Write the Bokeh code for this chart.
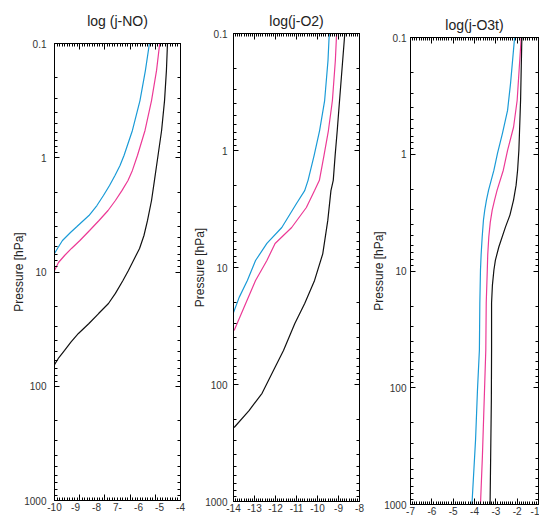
import numpy as np
from bokeh.plotting import figure
from bokeh.models import LinearAxis, LogAxis, FixedTicker, Range1d
from bokeh.layouts import row, column
from bokeh.embed import file_html
from bokeh.resources import INLINE

# ---------------- data ----------------
titles = ["log (j-NO)", "log(j-O2)", "log(j-O3t)"]
y_axis_label = "Pressure [hPa]"
y_ticks = [0.1, 1, 10, 100, 1000]
y_tick_labels = ["0.1", "1", "10", "100", "1000"]

# panel 1: log(j-NO)
no_x_ticks = [-10, -9, -8, -7, -6, -5, -4]
no_x_labels = ["-10", "-9", "-8", "7-", "-6", "-5", "-4"]
no_blue_p = [0.1, 0.172, 0.316, 0.577, 0.956, 1.169, 1.430, 1.749, 2.140, 2.618, 3.203, 3.54, 3.999, 4.51, 5.30, 6.105, 6.89]
no_blue_v = [-5.48, -5.67, -5.93, -6.29, -6.69, -6.88, -7.12, -7.38, -7.67, -7.98, -8.36, -8.62, -8.93, -9.24, -9.62, -9.83, -10.0]
no_pink_p = [0.1, 0.172, 0.316, 0.577, 0.956, 1.29, 1.58, 1.94, 2.367, 2.895, 3.54, 4.334, 5.30, 6.22, 7.17, 8.26, 9.70]
no_pink_v = [-4.99, -5.14, -5.38, -5.69, -6.05, -6.29, -6.50, -6.79, -7.10, -7.45, -7.88, -8.33, -8.79, -9.19, -9.52, -9.81, -10.0]
no_black_p = [0.1, 0.172, 0.316, 0.577, 0.956, 1.58, 2.367, 3.54, 4.792, 6.22, 7.93, 9.70, 11.87, 15.4, 18.87, 23.1, 28.24, 34.5, 40.96, 48.6, 56.03, 64.6]
no_black_v = [-4.62, -4.67, -4.76, -4.90, -5.07, -5.24, -5.38, -5.57, -5.74, -5.95, -6.24, -6.48, -6.74, -7.10, -7.43, -7.90, -8.36, -8.86, -9.21, -9.52, -9.79, -10.0]

# panel 2: log(j-O2)
o2_x_ticks = [-14, -13, -12, -11, -10, -9, -8]
o2_x_labels = ["-14", "-13", "-12", "-11", "-10", "-9", "-8"]
o2_blue_p = [0.1, 0.170, 0.374, 0.675, 1.10, 1.80, 2.20, 2.84, 4.55, 6.23, 8.71, 12.9, 18.0, 24.3]
o2_blue_v = [-9.44, -9.50, -9.66, -9.90, -10.16, -10.45, -10.61, -11.00, -11.70, -12.41, -12.95, -13.34, -13.73, -14.0]
o2_pink_p = [0.1, 0.170, 0.374, 0.675, 1.10, 1.80, 2.20, 3.07, 4.55, 6.23, 8.71, 12.9, 20.3, 34.5]
o2_pink_v = [-9.09, -9.15, -9.29, -9.48, -9.69, -9.91, -10.14, -10.53, -11.23, -12.02, -12.41, -12.95, -13.42, -13.97]
o2_black_p = [0.1, 0.374, 0.675, 1.10, 1.80, 2.20, 3.96, 7.64, 12.9, 20.3, 30.1, 51.2, 80.5, 119, 167, 233]
o2_black_v = [-8.70, -8.95, -9.06, -9.16, -9.25, -9.36, -9.51, -9.75, -10.14, -10.61, -11.08, -11.62, -12.17, -12.64, -13.26, -13.97]

# panel 3: log(j-O3t)
o3_x_ticks = [-7, -6, -5, -4, -3, -2, -1]
o3_x_labels = ["-7", "-6", "-5", "-4", "-3", "-2", "-1"]
o3_blue_p = [0.1, 0.247, 0.421, 0.662, 0.98, 1.37, 2.03, 2.47, 3.01, 3.66, 5.12, 7.3, 9.8, 18.8, 47.3, 104, 278, 1000]
o3_blue_v = [-2.12, -2.31, -2.45, -2.69, -2.92, -3.09, -3.34, -3.44, -3.52, -3.58, -3.64, -3.69, -3.72, -3.75, -3.77, -3.86, -3.95, -4.12]
o3_pink_p = [0.1, 0.345, 0.587, 0.925, 1.37, 2.03, 2.47, 3.01, 3.81, 5.12, 7.3, 9.8, 18.8, 47.3, 104, 389, 1000]
o3_pink_v = [-1.81, -2.00, -2.17, -2.45, -2.65, -2.94, -3.06, -3.17, -3.26, -3.33, -3.38, -3.40, -3.45, -3.47, -3.53, -3.63, -3.72]
o3_black_p = [0.1, 0.345, 0.925, 1.37, 1.84, 2.47, 3.32, 4.21, 6.23, 8.06, 9.8, 13.2, 18.8, 47.3, 127, 1000]
o3_black_v = [-1.78, -1.84, -1.92, -1.98, -2.05, -2.17, -2.34, -2.55, -2.86, -3.02, -3.09, -3.16, -3.20, -3.20, -3.21, -3.27]

BLUE = "#1a9bd7"
PINK = "#ec3a96"
BLACK = "#111111"
FONT = "Liberation Sans"
TXT = "#333333"


def style_axis(ax, tick_in=5, minor_in=3, labels=True, standoff=4):
    ax.axis_line_color = "black"
    ax.major_tick_line_color = "black"
    ax.minor_tick_line_color = "black"
    ax.major_tick_in = tick_in
    ax.major_tick_out = 0
    ax.minor_tick_in = minor_in
    ax.minor_tick_out = 0
    ax.major_label_text_font = FONT
    if labels:
        ax.major_label_text_font_size = "10px"
        ax.major_label_text_color = TXT
        ax.major_label_standoff = standoff
    else:
        ax.major_label_text_font_size = "1px"
        ax.major_label_text_color = None
        ax.major_label_standoff = 0


def make_panel(title, xr, xt, xl, series, width, borders, title_standoff,
               ylab_standoff, top_gap=0, even_div=None):
    left, right, top, bottom = borders
    p = figure(width=width, height=517, x_range=Range1d(*xr),
               y_range=Range1d(1000, 0.1), y_axis_type="log",
               x_axis_location=None, y_axis_location=None,
               output_backend="svg", toolbar_location=None,
               min_border_left=left, min_border_right=right,
               min_border_top=top, min_border_bottom=bottom)
    p.grid.visible = False
    p.outline_line_color = "black"
    p.background_fill_color = "white"
    p.border_fill_color = "white"

    p.title.text = title
    p.title.align = "center"
    p.title.text_font = FONT
    p.title.text_font_size = "14px"
    p.title.text_font_style = "normal"
    p.title.text_color = "#222222"
    p.title.standoff = title_standoff

    ymin = [m * 10.0 ** k for k in range(-1, 3) for m in range(2, 10)]
    yticker = FixedTicker(ticks=y_ticks, minor_ticks=ymin)
    la = LogAxis(ticker=yticker, axis_label=y_axis_label,
                 major_label_overrides={t: s for t, s in zip(y_ticks, y_tick_labels)})
    style_axis(la, 5, 3, True, ylab_standoff)
    la.axis_label_text_font = FONT
    la.axis_label_text_font_size = "12px"
    la.axis_label_text_font_style = "normal"
    la.axis_label_text_color = "#222222"
    la.axis_label_standoff = -5
    p.add_layout(la, "left")
    ra = LogAxis(ticker=yticker)
    style_axis(ra, 5, 3, False)
    p.add_layout(ra, "right")

    if even_div is not None:
        majors = list(np.linspace(xr[0], xr[1], even_div + 1))
    else:
        majors = list(xt)
    step = (majors[1] - majors[0]) / 10.0
    minors = list(np.arange(xr[0], xr[1] + step / 2, step))
    xticker = FixedTicker(ticks=majors, minor_ticks=minors)

    ta = LinearAxis(ticker=xticker)
    style_axis(ta, 6, 3, False)
    p.add_layout(ta, "above")
    if top_gap > 0:
        # invisible spacer between the frame ticks and the title
        gap = LinearAxis(ticker=FixedTicker(ticks=[xr[0]], minor_ticks=[]))
        style_axis(gap, 0, 0, False)
        gap.major_tick_out = top_gap
        gap.axis_line_color = None
        gap.major_tick_line_color = None
        gap.minor_tick_line_color = None
        p.add_layout(gap, "above")

    overrides = {t: s for t, s in zip(xt, xl)}
    if even_div is not None:
        ba = LinearAxis(ticker=xticker)
        style_axis(ba, 6, 3, False)
        p.add_layout(ba, "below")
        bl = LinearAxis(ticker=FixedTicker(ticks=list(xt), minor_ticks=[]),
                        major_label_overrides=overrides)
        style_axis(bl, 0, 0, True, 2)
        bl.axis_line_color = None
        bl.major_tick_line_color = None
        bl.minor_tick_line_color = None
        p.add_layout(bl, "below")
    else:
        ba = LinearAxis(ticker=xticker, major_label_overrides=overrides)
        style_axis(ba, 6, 3, True, 2)
        p.add_layout(ba, "below")

    for (pv, vv, col) in series:
        p.line(vv, pv, line_color=col, line_width=1.2)
    return p


p1 = make_panel(titles[0], (-10, -4), no_x_ticks, no_x_labels,
                [(no_blue_p, no_blue_v, BLUE), (no_pink_p, no_pink_v, PINK),
                 (no_black_p, no_black_v, BLACK)],
                190, (54, 10, 43, 17), 18, 8, top_gap=6, even_div=5)
p2 = make_panel(titles[1], (-14, -8), o2_x_ticks, o2_x_labels,
                [(o2_blue_p, o2_blue_v, BLUE), (o2_pink_p, o2_pink_v, PINK),
                 (o2_black_p, o2_black_v, BLACK)],
                178, (41, 9, 33, 16), 6, 6, top_gap=2)
p3 = make_panel(titles[2], (-7, -1), o3_x_ticks, o3_x_labels,
                [(o3_blue_p, o3_blue_v, BLUE), (o3_pink_p, o3_pink_v, PINK),
                 (o3_black_p, o3_black_v, BLACK)],
                171, (42, 1, 37, 12), 9, 4, top_gap=0)

layout = row(column(p1), column(p2), column(p3))
open("out.html", "w").write(file_html(layout, INLINE))
